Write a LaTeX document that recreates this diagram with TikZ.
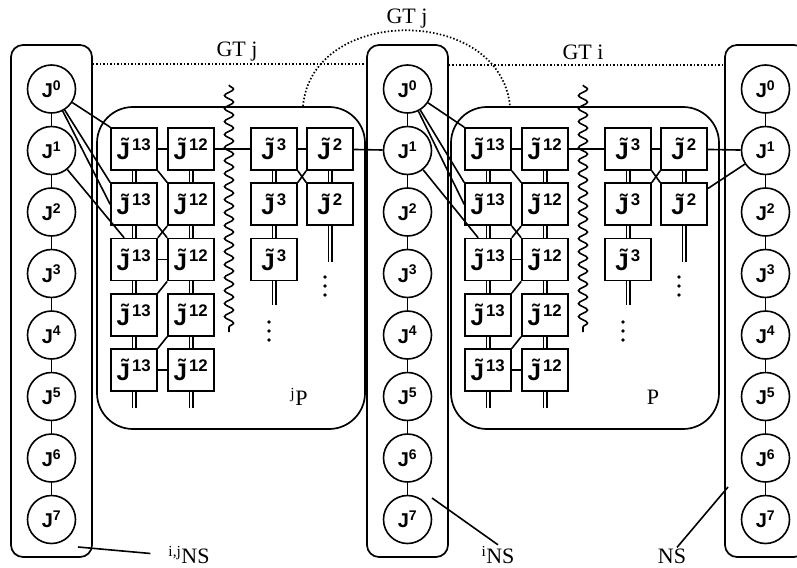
\documentclass[tikz,border=0pt]{standalone}
\usepackage{fontspec}
\setmainfont{Liberation Serif}
\setsansfont{Liberation Sans}
\usetikzlibrary{decorations.pathmorphing}

\tikzset{
  jcirc/.style={circle, draw, line width=1.6pt, minimum size=48pt, inner sep=0pt,
    font=\sffamily\bfseries\fontsize{20}{20}\selectfont},
  jbox/.style={rectangle, draw, line width=1.7pt, minimum width=46pt, minimum height=42pt,
    inner sep=0pt, font=\sffamily\bfseries\fontsize{24}{24}\selectfont},
  nsbox/.style={rectangle, draw, rounded corners=12pt, line width=1.7pt,
    minimum width=81pt, minimum height=512pt, inner sep=0pt},
  pbox/.style={rectangle, draw, rounded corners=36pt, line width=1.7pt,
    minimum width=268pt, minimum height=322pt, inner sep=0pt},
  link/.style={line width=1.6pt},
  bus/.style={line width=1.2pt, double, double distance=2.6pt},
  gtline/.style={line width=1.7pt, dash pattern=on 1.5pt off 2pt},
  cut/.style={line width=1.6pt, decorate,
    decoration={snake, amplitude=4.5pt, segment length=13pt}},
  txt/.style={font=\fontsize{22}{22}\selectfont, inner sep=1pt},
}
\newcommand{\Jt}[1]{J^^^^0303\kern2pt\textsuperscript{#1}}

\begin{document}
\begin{tikzpicture}[x=1pt, y=-1pt]
\useasboundingbox (0,0) rectangle (797,567);
\clip (0,0) rectangle (797,567);

% neighbour sets with the chain J0..J7
\foreach \u/\dx in {a/0, b/356, c/714} {
  \node (NS\u) [nsbox] at (51.5+\dx,301) {};
  \foreach \k in {0,...,7}
    \node (J\k\u) [jcirc] at (51.5+\dx,89+61.5*\k) {J\textsuperscript{\k}};
  \foreach \k [count=\n from 1] in {0,...,6}
    \draw [link] (J\k\u) -- (J\n\u);
}

% partitions
\foreach \u/\dx/\v/\lab in {a/0/b/{\textsuperscript{j}P}, b/354/c/P} {
  \node (P\u) [pbox] at (231+\dx,268) {};
  \node (Plab\u) [txt] at (299+\dx,397) {\lab};
  \foreach \r in {1,...,5} {
    \node (j13\u\r) [jbox] at (134+\dx,149+55.3*\r-55.3) {\Jt{13}};
    \node (j12\u\r) [jbox] at (191+\dx,149+55.3*\r-55.3) {\Jt{12}};
  }
  \foreach \r in {1,...,3}
    \node (j3\u\r) [jbox] at (274+\dx,149+55.3*\r-55.3) {\Jt{3}};
  \foreach \r in {1,2}
    \node (j2\u\r) [jbox] at (330+\dx,149+55.3*\r-55.3) {\Jt{2}};
  % buses
  \foreach \r [count=\n from 2] in {1,...,4} {
    \draw [bus] (j13\u\r.south) -- (j13\u\n.north);
    \draw [bus] (j12\u\r.south) -- (j12\u\n.north);
  }
  \foreach \r [count=\n from 2] in {1,2}
    \draw [bus] (j3\u\r.south) -- (j3\u\n.north);
  \draw [bus] (j2\u1.south) -- (j2\u2.north);
  \coordinate (e13\u) at (134+\dx,408);
  \coordinate (e12\u) at (191+\dx,408);
  \coordinate (e3\u) at (274+\dx,305);
  \coordinate (e2\u) at (330+\dx,262);
  \draw [bus] (j13\u5.south) -- (e13\u);
  \draw [bus] (j12\u5.south) -- (e12\u);
  \draw [bus] (j3\u3.south) -- (e3\u);
  \draw [bus] (j2\u2.south) -- (e2\u);
  \foreach \d in {0,1,2} {
    \fill (269+\dx,322+9*\d) circle (1.8pt);
    \fill (325+\dx,277+9*\d) circle (1.8pt);
  }
  % links inside the partition
  \draw [link] (j13\u1) -- (j12\u1);
  \draw [link] (j12\u1) -- (j3\u1);
  \draw [link] (j3\u1) -- (j2\u1);
  \draw [link] (j13\u3) -- (j12\u3);
  \draw [link] (j13\u5) -- (j12\u5);
  \draw [link] (j13\u1.south east) -- (j12\u2.north west);
  \draw [link] (j13\u2.south east) -- (j12\u3.north west);
  \draw [link] (j12\u2.south west) -- (j13\u3.north east);
  \draw [link] (j12\u3.south west) -- (j13\u4.north east);
  \draw [link] (j12\u4.south west) -- (j13\u5.north east);
  \draw [link] (j3\u1.south east) -- (j2\u2.north west);
  \draw [link] (j2\u1.south west) -- (j3\u2.north east);
  % links to the neighbour sets
  \draw [link] (J0\u) -- (j13\u1.north west);
  \draw [link] (J0\u) -- (j13\u2.north west);
  \draw [link] (J0\u) -- (j13\u2.west);
  \draw [link] (J1\u) -- ([xshift=14pt]j13\u3.north west);
  \draw [link] (j2\u1) -- (J1\v);
  \draw [cut] (229+\dx,85) -- (229+\dx,332);
}
\draw [link] (j2b2) -- (J1c);

% group links
\draw [gtline] ([yshift=-20pt]NSa.north east) -- ([yshift=-20pt]NSb.north west);
\draw [gtline] ([yshift=-21pt]NSb.north east) -- ([yshift=-21pt]NSc.north west);
\draw [gtline] ([xshift=72pt]Pa.north) .. controls (312,5) and (500,5) .. ([xshift=-75pt]Pb.north);
\node (gtja) [txt] at (237,52) {GT j};
\node (gti) [txt] at (583,52) {GT i};
\node (gtjb) [txt] at (407,19) {GT j};

% set names
\node (NSlaba) [txt] at (189,555) {\textsuperscript{i,j}NS};
\node (NSlabb) [txt] at (498,555) {\textsuperscript{i}NS};
\node (NSlabc) [txt] at (672,556) {NS};
\coordinate (tipa) at (78,547);
\coordinate (tipb) at (432,498);
\coordinate (tipc) at (728,487);
\draw [link, shorten >=17pt] (tipa) -- (NSlaba.west);
\draw [link] (tipb) -- (NSlabb.north);
\draw [link] (tipc) -- ([xshift=5pt]NSlabc.north);
\end{tikzpicture}
\end{document}
